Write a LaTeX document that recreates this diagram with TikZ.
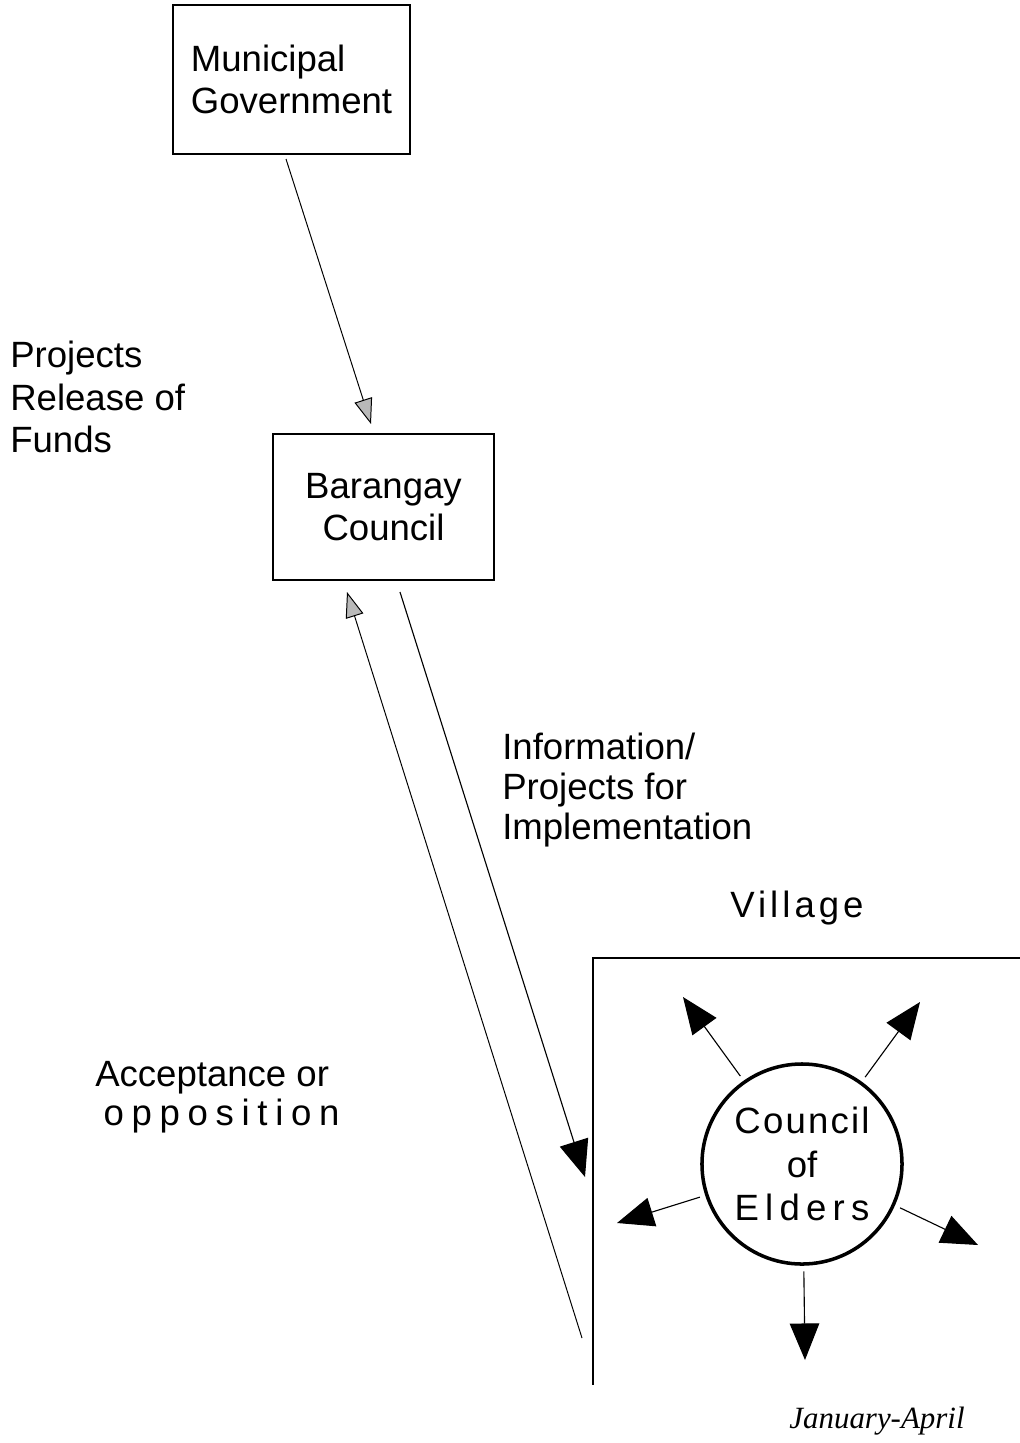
\documentclass[tikz,border=0pt]{standalone}
\usepackage{fontspec}
\setmainfont{Liberation Sans}
\newfontfamily\dateserif{Liberation Serif}
\usetikzlibrary{arrows.meta}

\begin{document}
\begin{tikzpicture}[x=0.025cm, y=-0.025cm, >=Latex,
  every node/.style={font=\fontsize{26}{30}\selectfont},
  box/.style={draw, line width=0.9pt, inner sep=0pt},
  lbl/.style={align=left, anchor=west, inner sep=0pt},
  greyhead/.style={-{Triangle[length=18pt, width=13pt, fill=gray!55]}, line width=0.7pt},
  blackhead/.style={-{Triangle[length=26pt, width=21pt]}, line width=0.8pt, shorten <=4pt}]
\useasboundingbox (0,0) rectangle (1020,1443);
\node[box, minimum width=5.925cm, minimum height=3.725cm, align=left] (muni) at (291.5,79.5) {Municipal\\Government};
\node[box, minimum width=5.525cm, minimum height=3.65cm, align=center] (bara) at (383.5,507) {Barangay\\Council};
\node[draw, circle, line width=2.5pt, minimum size=5cm, inner sep=0pt, align=center,
  font=\fontsize{26}{31}\selectfont] (elders) at (802,1164)
  {{\addfontfeature{LetterSpace=6}Council}\\of\\{\addfontfeature{LetterSpace=17}Elders}};
% labels
\node[lbl] (funds) at (10,397) {Projects\\Release of\\Funds};
\node[lbl, font=\fontsize{26}{28.5}\selectfont] (info) at (502,790) {Information/\\Projects for\\Implementation};
\node[lbl, font=\fontsize{26}{28}\selectfont] (accept) at (95,1097) {Acceptance or\\\hspace*{6pt}{\addfontfeature{LetterSpace=21}opposition}};
\node[font=\fontsize{26}{30}\selectfont\addfontfeature{LetterSpace=11}] (village) at (797,908) {Village};
\node[font=\fontsize{22}{26}\dateserif\itshape] (date) at (877,1421) {January-April};
% ends of the connectors
\coordinate (m1) at (286,159);
\coordinate (b1) at (371,424);
\coordinate (b2) at (347,592);
\coordinate (b3) at (400,592);
\coordinate (v2) at (582,1338);
\coordinate (v3) at (585,1177);
\coordinate (nw) at (683,997);
\coordinate (ne) at (920,1002);
\coordinate (w) at (617,1223);
\coordinate (e) at (978,1245);
\coordinate (s) at (805,1360);
% village frame
\draw[line width=0.9pt] (1020,958) -- (593,958) -- (593,1385);
\draw[greyhead] (m1) -- (b1);
\draw[greyhead] (v2) -- (b2);
\draw[blackhead, shorten <=0pt] (b3) -- (v3);
\draw[blackhead] (elders.125) -- (nw);
\draw[blackhead] (elders.54) -- (ne);
\draw[blackhead] (elders.-162.6) -- (w);
\draw[blackhead] (elders.-24) -- (e);
\draw[blackhead] (elders.-89) -- (s);
\end{tikzpicture}
\end{document}
